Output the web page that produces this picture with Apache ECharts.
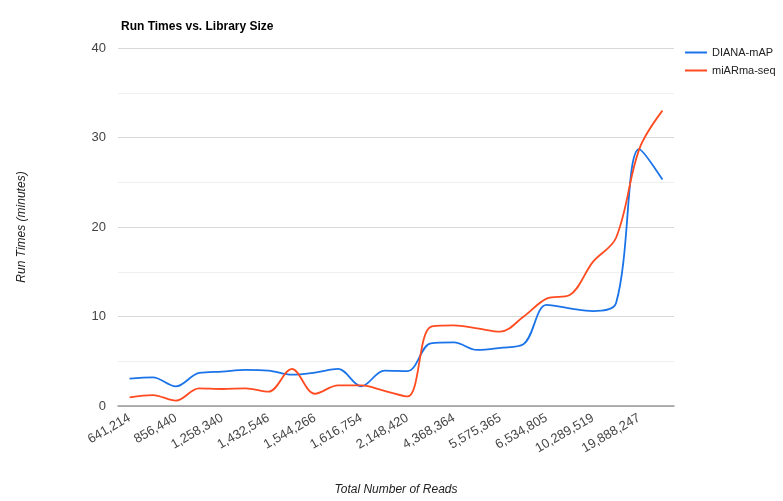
<!DOCTYPE html>
<html><head><meta charset="utf-8">
<script src="https://cdn.jsdelivr.net/npm/echarts@6/dist/echarts.min.js"></script>
<style>html,body{margin:0;padding:0;background:#fff}#c{width:783px;height:501px}</style>
</head><body><div id="c"></div>
<script>
// Categories: labelled every other one in the reference; unlabelled ones left blank
const categories = ['641,214','', '856,440','', '1,258,340','', '1,432,546','', '1,544,266','', '1,616,754','', '2,148,420','', '4,368,364','', '5,575,365','', '6,534,805','', '10,289,519','', '19,888,247',''];
const dianaMap = [3.07, 3.2, 2.2, 3.7, 3.85, 4.03, 3.96, 3.5, 3.74, 4.15, 2.2, 3.96, 3.9, 7.0, 7.1, 6.26, 6.5, 6.9, 11.3, 10.9, 10.6, 11.5, 28.7, 25.3];
const miarmaSeq = [0.97, 1.22, 0.6, 1.97, 1.9, 1.97, 1.6, 4.15, 1.37, 2.3, 2.3, 1.7, 1.07, 8.85, 9.0, 8.67, 8.3, 9.97, 12.0, 12.4, 16.1, 18.8, 28.7, 33.0];
const yTicks = [0, 10, 20, 30, 40];

const chart = echarts.init(document.getElementById('c'), null, {renderer: 'canvas'});
chart.setOption({
  animation: false,
  textStyle: {fontFamily: 'Liberation Sans, Arial, sans-serif'},
  title: {
    text: 'Run Times vs. Library Size',
    left: 116, top: 16,
    textStyle: {fontSize: 12, fontWeight: 'bold', color: '#000', fontFamily: 'Liberation Sans, Arial, sans-serif'}
  },
  legend: {
    orient: 'vertical', left: 685, top: 47, itemGap: 7, padding: 0,
    itemWidth: 22, itemHeight: 2, icon: 'rect',
    textStyle: {fontSize: 11, color: '#222'},
    data: ['DIANA-mAP', 'miARma-seq']
  },
  grid: {left: 118, right: 109, top: 48, bottom: 93},
  xAxis: {
    type: 'category', data: categories, boundaryGap: true,
    name: 'Total Number of Reads', nameLocation: 'middle', nameGap: 78,
    nameTextStyle: {fontStyle: 'italic', fontSize: 12, color: '#222'},
    axisLine: {lineStyle: {color: '#999', width: 1.5}},
    axisTick: {show: false},
    axisLabel: {rotate: 30, interval: 0, fontSize: 13, color: '#444', margin: 11}
  },
  yAxis: {
    type: 'value', min: yTicks[0], max: yTicks[yTicks.length-1], interval: 10,
    name: 'Run Times (minutes)', nameLocation: 'middle', nameGap: 90,
    nameTextStyle: {fontStyle: 'italic', fontSize: 12, color: '#222'},
    axisLine: {show: false}, axisTick: {show: false},
    axisLabel: {fontSize: 13, color: '#444', margin: 12},
    splitLine: {lineStyle: {color: '#d8d8d8'}},
    minorTick: {show: false, splitNumber: 2},
    minorSplitLine: {show: true, lineStyle: {color: '#efefef'}}
  },
  series: [
    {name: 'DIANA-mAP', type: 'line', data: dianaMap, smooth: 0.35, showSymbol: false,
     itemStyle: {color: '#1a73e8'}, lineStyle: {color: '#1a73e8', width: 1.8}},
    {name: 'miARma-seq', type: 'line', data: miarmaSeq, smooth: 0.35, showSymbol: false,
     itemStyle: {color: '#ff4b1f'}, lineStyle: {color: '#ff4b1f', width: 1.8}}
  ]
});
</script></body></html>
